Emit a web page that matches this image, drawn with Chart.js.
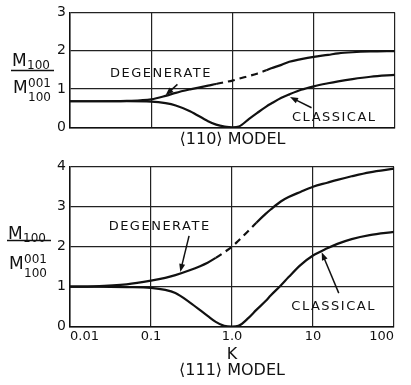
<!DOCTYPE html>
<html>
<head>
<meta charset="utf-8">
<script src="https://cdn.jsdelivr.net/npm/chart.js@4"></script>
<style>
  html, body { margin: 0; padding: 0; background: #fff; }
  #wrap { position: relative; width: 411px; height: 385px; background: #fff; }
  #wrap canvas { position: absolute; left: 0; }
  #c110 { top: 0; }
  #c111 { top: 150px; }
</style>
</head>
<body>
<div id="wrap">
  <canvas id="c110" width="411" height="160" style="width:411px;height:160px"></canvas>
  <canvas id="c111" width="411" height="235" style="width:411px;height:235px"></canvas>
</div>
<script>
// Anisotropy parameter K sampled on a log grid
const kValues = [0.01, 0.02, 0.05, 0.1, 0.15, 0.2, 0.3, 0.5, 0.63, 0.8, 1, 1.2, 1.6, 2, 2.6, 3, 4, 5, 7, 10, 15, 20, 30, 50, 100];

// <110> model: M100 / M100(001)
const degenerate110 = [0.68, 0.68, 0.69, 0.73, 0.82, 0.9, 0.99, 1.09, 1.13, 1.18, 1.22, 1.27, 1.34, 1.4, 1.49, 1.54, 1.63, 1.71, 1.78, 1.84, 1.89, 1.93, 1.96, 1.98, 1.99];
const classical110  = [0.68, 0.68, 0.68, 0.67, 0.63, 0.57, 0.42, 0.16, 0.07, 0.02, 0.0, 0.02, 0.22, 0.37, 0.54, 0.62, 0.77, 0.86, 0.98, 1.07, 1.15, 1.2, 1.26, 1.32, 1.37];

// <111> model: M100 / M100(001)
const degenerate111 = [1.0, 1.01, 1.06, 1.15, 1.22, 1.29, 1.41, 1.6, 1.72, 1.86, 2.0, 2.15, 2.4, 2.6, 2.82, 2.93, 3.13, 3.24, 3.37, 3.5, 3.6, 3.67, 3.76, 3.86, 3.95];
const classical111  = [1.0, 1.0, 0.99, 0.97, 0.92, 0.84, 0.61, 0.27, 0.12, 0.02, 0.0, 0.02, 0.22, 0.42, 0.64, 0.78, 1.03, 1.24, 1.54, 1.78, 1.96, 2.07, 2.19, 2.29, 2.37];

// K range over which the degenerate curve is only interpolated (dashed)
const dashRange110 = [0.63, 2.6];
const dashRange111 = [0.63, 2.0];

// Axis ticks
const xTickValues = [0.01, 0.1, 1, 10, 100];
const xTickLabels = ['0.01', '0.1', '1.0', '10', '100'];
const yTicks110 = [0, 1, 2, 3];
const yTicks111 = [0, 1, 2, 3, 4];

const INK = '#111';
const FONT = 'DejaVu Sans';

const points = (ys) => kValues.map((k, i) => ({ x: k, y: ys[i] }));

// Fraction label M100 / M100^001 drawn left of the y axis
const fractionLabel = {
  id: 'fractionLabel',
  afterDraw(chart, args, o) {
    const ctx = chart.ctx;
    ctx.save();
    ctx.fillStyle = INK;
    ctx.strokeStyle = INK;
    ctx.textAlign = 'left';
    ctx.textBaseline = 'alphabetic';
    const x = o.x, y = o.lineY;
    ctx.font = '17px ' + FONT;
    ctx.fillText('M', x + 1, y + o.num);
    ctx.font = '12px ' + FONT;
    ctx.fillText('100', x + 16, y + o.num + 3);
    ctx.lineWidth = 1.5;
    ctx.beginPath();
    ctx.moveTo(x, y);
    ctx.lineTo(x + o.width, y);
    ctx.stroke();
    ctx.font = '17px ' + FONT;
    ctx.fillText('M', x + 2, y + o.den);
    ctx.font = '12px ' + FONT;
    ctx.fillText('001', x + 17, y + o.den - 6);
    ctx.fillText('100', x + 17, y + o.den + 8);
    ctx.restore();
  }
};

// Curve names with pointer arrows, placed in data coordinates
const curveNotes = {
  id: 'curveNotes',
  afterDraw(chart, args, o) {
    const ctx = chart.ctx;
    const xs = chart.scales.x, ys = chart.scales.y;
    const px = (p) => [xs.getPixelForValue(p[0]), ys.getPixelForValue(p[1])];
    ctx.save();
    ctx.fillStyle = INK;
    ctx.strokeStyle = INK;
    ctx.font = '13px ' + FONT;
    ctx.textAlign = 'left';
    ctx.textBaseline = 'middle';
    ctx.letterSpacing = '1.5px';
    (o.labels || []).forEach(l => {
      const [x, y] = px(l.at);
      ctx.fillText(l.text, x, y);
    });
    ctx.letterSpacing = '0px';
    (o.arrows || []).forEach(a => {
      const [x0, y0] = px(a.from);
      const [x1, y1] = px(a.to);
      const ang = Math.atan2(y1 - y0, x1 - x0);
      const len = 8, half = 3;
      ctx.lineWidth = 1.5;
      ctx.beginPath();
      ctx.moveTo(x0, y0);
      ctx.lineTo(x1 - Math.cos(ang) * len * 0.8, y1 - Math.sin(ang) * len * 0.8);
      ctx.stroke();
      ctx.beginPath();
      ctx.moveTo(x1, y1);
      ctx.lineTo(x1 - Math.cos(ang) * len - Math.sin(ang) * half, y1 - Math.sin(ang) * len + Math.cos(ang) * half);
      ctx.lineTo(x1 - Math.cos(ang) * len + Math.sin(ang) * half, y1 - Math.sin(ang) * len - Math.cos(ang) * half);
      ctx.closePath();
      ctx.fill();
    });
    ctx.restore();
  }
};

function curve(ys, dashRange) {
  return {
    data: points(ys),
    borderColor: INK,
    borderWidth: 2.2,
    pointRadius: 0,
    fill: false,
    cubicInterpolationMode: 'monotone',
    segment: {
      borderDash: (ctx) => {
        if (!dashRange) return undefined;
        const a = ctx.p0.parsed.x, b = ctx.p1.parsed.x;
        return (a >= dashRange[0] - 1e-9 && b <= dashRange[1] + 1e-9) ? [7, 5] : undefined;
      }
    }
  };
}

function makeChart(id, cfg) {
  return new Chart(document.getElementById(id), {
    type: 'line',
    data: {
      datasets: [
        curve(cfg.degenerate, cfg.dashRange),
        curve(cfg.classical, null)
      ]
    },
    options: {
      responsive: false,
      animation: false,
      events: [],
      layout: { padding: { left: 0, right: cfg.padRight, top: cfg.padTop, bottom: 0 } },
      plugins: {
        legend: { display: false },
        tooltip: { enabled: false },
        fractionLabel: cfg.fraction,
        curveNotes: cfg.notes
      },
      scales: {
        x: {
          type: 'logarithmic',
          min: 0.01,
          max: 100,
          afterBuildTicks: (s) => { s.ticks = xTickValues.map(v => ({ value: v })); },
          afterFit: (s) => { s.height = cfg.xHeight; },
          ticks: {
            display: cfg.showXLabels,
            autoSkip: false,
            maxRotation: 0,
            align: 'inner',
            padding: 2,
            color: INK,
            font: { family: FONT, size: 13 },
            callback: (v, i) => xTickLabels[i]
          },
          grid: { color: '#222', lineWidth: 1.2, drawTicks: false },
          border: { color: INK, width: 1.5 },
          title: {
            display: true,
            text: cfg.title,
            color: INK,
            font: { family: FONT, size: 16, lineHeight: cfg.titleLH },
            padding: { top: 0, bottom: cfg.titlePad }
          }
        },
        y: {
          min: 0,
          max: cfg.yMax,
          afterBuildTicks: (s) => { s.ticks = cfg.yTicks.map(v => ({ value: v })); },
          afterFit: (s) => { s.width = 70; },
          ticks: {
            padding: 4,
            color: INK,
            font: { family: FONT, size: 14 },
            callback: (v) => String(v)
          },
          grid: { color: '#222', lineWidth: 1.2, drawTicks: false },
          border: { color: INK, width: 1.5 }
        }
      }
    },
    plugins: [fractionLabel, curveNotes]
  });
}

makeChart('c110', {
  degenerate: degenerate110,
  classical: classical110,
  dashRange: dashRange110,
  yMax: 3,
  yTicks: yTicks110,
  padTop: 8.8,
  padRight: 16,
  xHeight: 32.7,
  showXLabels: false,
  title: '⟨110⟩ MODEL',
  titleLH: 1.2,
  titlePad: 10.4,
  fraction: { x: 11, lineY: 70.5, width: 43, num: -5, den: 22 },
  notes: {
    labels: [
      { text: 'DEGENERATE', at: [0.031, 1.40] },
      { text: 'CLASSICAL', at: [5.4, 0.26] }
    ],
    arrows: [
      { from: [0.21, 1.12], to: [0.15, 0.84] },
      { from: [9.4, 0.51], to: [5.1, 0.79] }
    ]
  }
});

makeChart('c111', {
  degenerate: degenerate111,
  classical: classical111,
  dashRange: dashRange111,
  yMax: 4,
  yTicks: yTicks111,
  padTop: 16.7,
  padRight: 17,
  xHeight: 58.3,
  showXLabels: true,
  title: ['K', '⟨111⟩ MODEL'],
  titleLH: 1.0,
  titlePad: 6,
  fraction: { x: 7, lineY: 90.5, width: 44, num: -2, den: 28 },
  notes: {
    labels: [
      { text: 'DEGENERATE', at: [0.030, 2.49] },
      { text: 'CLASSICAL', at: [5.4, 0.5] }
    ],
    arrows: [
      { from: [0.295, 2.27], to: [0.23, 1.37] },
      { from: [20.8, 0.84], to: [12.8, 1.86] }
    ]
  }
});
</script>
</body>
</html>
